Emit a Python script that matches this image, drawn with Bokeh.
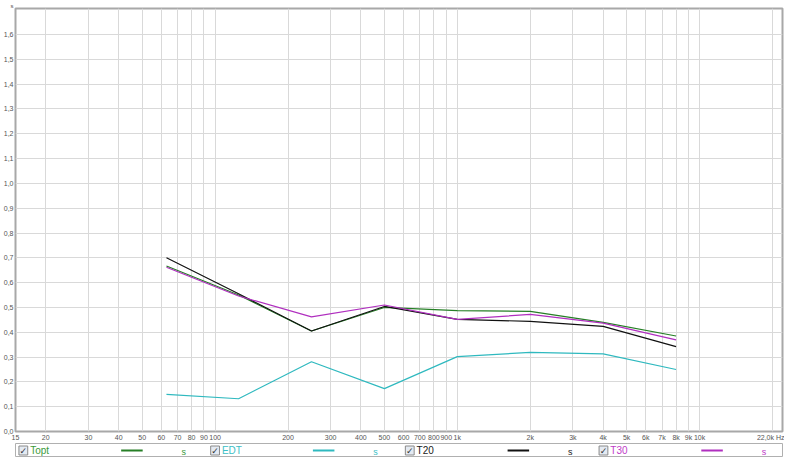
from bokeh.plotting import figure
from bokeh.layouts import column
from bokeh.models import FixedTicker, CustomJSTickFormatter
from bokeh.core.properties import value
from bokeh.embed import file_html
from bokeh.resources import INLINE

# ---- data ----
freqs = [63, 125, 250, 500, 1000, 2000, 4000, 8000]
topt = [0.667, 0.550, 0.405, 0.500, 0.487, 0.484, 0.440, 0.385]
edt = [0.150, 0.132, 0.281, 0.173, 0.302, 0.319, 0.313, 0.250]
t20 = [0.700, 0.555, 0.405, 0.504, 0.452, 0.444, 0.424, 0.342]
t30 = [0.662, 0.546, 0.462, 0.510, 0.452, 0.472, 0.437, 0.369]

series_names = ["Topt", "EDT", "T20", "T30"]
series_values = [topt, edt, t20, t30]
series_colors = ["#267f26", "#2fb9bf", "#111111", "#b02fbf"]
label_colors = ["#3a9a3a", "#3cc0c6", "#222222", "#c03cc8"]
unit_label = "s"

x_ticks = [15, 20, 30, 40, 50, 60, 70, 80, 90, 100, 200, 300, 400, 500, 600, 700,
           800, 900, 1000, 2000, 3000, 4000, 5000, 6000, 7000, 8000, 9000, 10000,
           20000, 22000]
x_tick_labels = ["15", "20", "30", "40", "50", "60", "70", "80", "90", "100", "200",
                 "300", "400", "500", "600", "700", "800", "900", "1k", "2k", "3k",
                 "4k", "5k", "6k", "7k", "8k", "9k", "10k", "", "22,0k Hz"]
y_ticks = [0.0, 0.1, 0.2, 0.3, 0.4, 0.5, 0.6, 0.7, 0.8, 0.9, 1.0, 1.1, 1.2, 1.3,
           1.4, 1.5, 1.6]

FONT = "Liberation Sans"
W = 784

# ---- main chart ----
p = figure(width=W, height=443, x_axis_type="log", x_range=(15, 22000),
           y_range=(0, 1.705), toolbar_location=None, output_backend="svg",
           min_border_left=4, min_border_right=2, min_border_top=0,
           min_border_bottom=0, title=unit_label)
p.title.text_font = FONT
p.title.text_font_size = "6px"
p.title.text_font_style = "normal"
p.title.text_color = "#555555"
p.title.align = "left"
p.title.offset = -5
p.title.standoff = 0
p.background_fill_color = "white"
p.border_fill_color = "white"
p.outline_line_color = "#a8a8a8"
p.outline_line_width = 2

p.xaxis.ticker = FixedTicker(ticks=x_ticks, minor_ticks=[])
p.xaxis.major_label_overrides = {t: l for t, l in zip(x_ticks, x_tick_labels)}
p.yaxis.ticker = FixedTicker(ticks=y_ticks, minor_ticks=[])
p.yaxis.formatter = CustomJSTickFormatter(code="return tick.toFixed(1).replace('.', ',');")

for ax in (p.xaxis, p.yaxis):
    ax.axis_line_color = None
    ax.major_tick_line_color = None
    ax.minor_tick_line_color = None
    ax.major_tick_out = 0
    ax.major_tick_in = 0
    ax.major_label_text_font = FONT
    ax.major_label_text_font_size = "7px"
    ax.major_label_text_color = "#555555"
    ax.major_label_standoff = 2

p.xgrid.grid_line_color = "#d9d9d9"
p.ygrid.grid_line_color = "#d9d9d9"
p.xgrid.grid_line_width = 1
p.ygrid.grid_line_width = 1

for name, vals, col in zip(series_names, series_values, series_colors):
    p.line(freqs, vals, line_color=col, line_width=1.2)

# ---- legend strip ----
LH = 14
lg = figure(width=W, height=LH, x_range=(0, W), y_range=(0, LH),
            toolbar_location=None, output_backend="svg", min_border=0)
lg.axis.visible = False
lg.grid.visible = False
lg.outline_line_color = "#b0b0b0"
lg.outline_line_width = 1
lg.background_fill_color = "white"

item_base = [3, 199, 398, 596]
cy = LH / 2
for base, name, col, lcol in zip(item_base, series_names, series_colors, label_colors):
    lg.rect(x=base + 5, y=cy, width=9, height=9, fill_color="#e4eaf2",
            line_color="#8a8a8a", line_width=1)
    lg.text(x=[base + 5], y=[cy], text=["\u2713"], text_font=value("DejaVu Sans"),
            text_font_size="9px", text_color="#333333", text_align="center",
            text_baseline="middle")
    lg.text(x=[base + 12], y=[cy], text=[name], text_font=value(FONT),
            text_font_size="10px", text_color=lcol, text_align="left",
            text_baseline="middle")
    lg.line(x=[base + 105, base + 127], y=[cy, cy], line_color=col, line_width=2)
    lg.text(x=[base + 169], y=[cy - 1], text=[unit_label], text_font=value(FONT),
            text_font_size="9px", text_color=lcol, text_align="center",
            text_baseline="middle")

layout = column(p, lg, spacing=0)
open("out.html", "w").write(file_html(layout, INLINE))
